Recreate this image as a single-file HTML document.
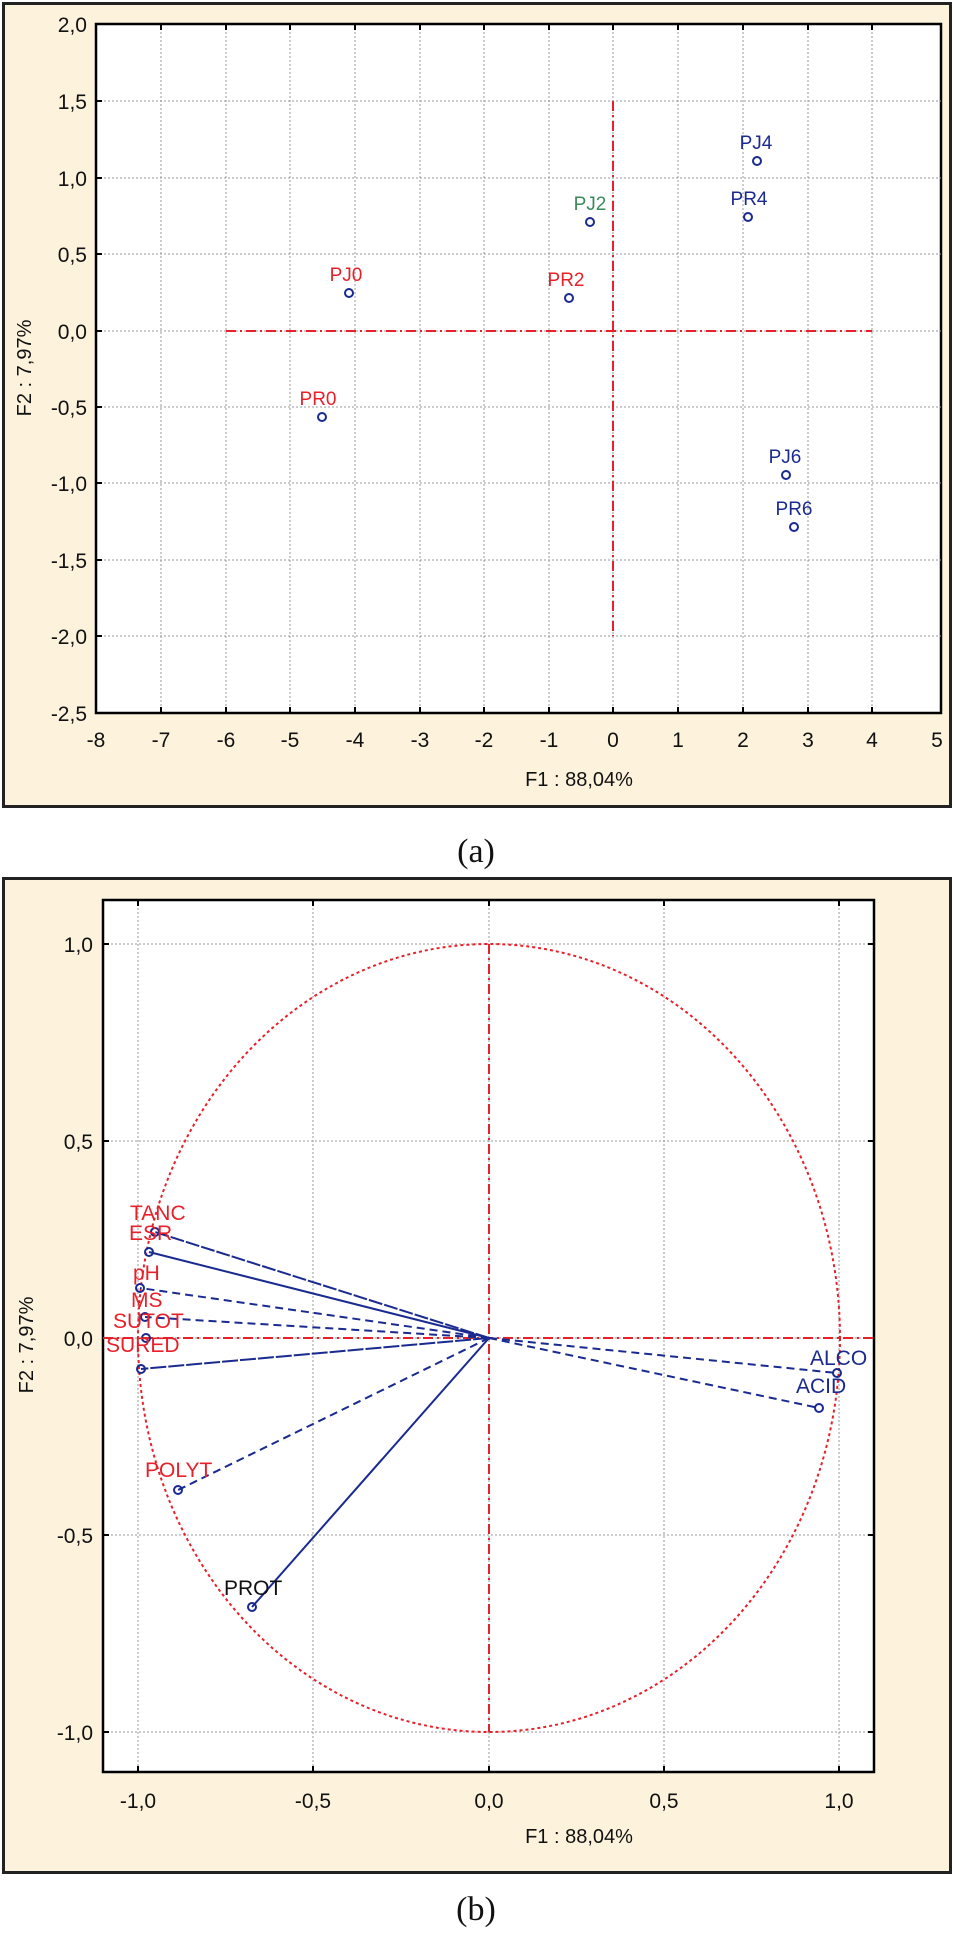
<!DOCTYPE html>
<html><head><meta charset="utf-8"><style>
html,body{margin:0;padding:0;background:#fff;}
svg{display:block;font-family:"Liberation Sans",sans-serif;}
</style></head><body>
<svg width="955" height="1933" viewBox="0 0 955 1933" xmlns="http://www.w3.org/2000/svg">
<!-- Panel a -->
<rect x="3.5" y="3.5" width="947" height="803" fill="#fdf2dc" stroke="#222" stroke-width="3"/>
<rect x="96" y="24" width="845" height="689" fill="#fff" stroke="#000" stroke-width="2.5"/>
<g stroke="#999" stroke-width="1" stroke-dasharray="2,2">
<line x1="161" y1="24" x2="161" y2="713"/><line x1="226" y1="24" x2="226" y2="713"/><line x1="290" y1="24" x2="290" y2="713"/><line x1="355" y1="24" x2="355" y2="713"/><line x1="420" y1="24" x2="420" y2="713"/><line x1="484" y1="24" x2="484" y2="713"/><line x1="549" y1="24" x2="549" y2="713"/><line x1="613" y1="24" x2="613" y2="713"/><line x1="678" y1="24" x2="678" y2="713"/><line x1="743" y1="24" x2="743" y2="713"/><line x1="808" y1="24" x2="808" y2="713"/><line x1="872" y1="24" x2="872" y2="713"/>
<line x1="96" y1="101" x2="941" y2="101"/><line x1="96" y1="178" x2="941" y2="178"/><line x1="96" y1="254" x2="941" y2="254"/><line x1="96" y1="331" x2="941" y2="331"/><line x1="96" y1="407" x2="941" y2="407"/><line x1="96" y1="483" x2="941" y2="483"/><line x1="96" y1="560" x2="941" y2="560"/><line x1="96" y1="636" x2="941" y2="636"/>
</g>
<g stroke="#000" stroke-width="2">
<path d="M161 713v-6M226 713v-6M290 713v-6M355 713v-6M420 713v-6M484 713v-6M549 713v-6M613 713v-6M678 713v-6M743 713v-6M808 713v-6M872 713v-6M161 24v6M226 24v6M290 24v6M355 24v6M420 24v6M484 24v6M549 24v6M613 24v6M678 24v6M743 24v6M808 24v6M872 24v6"/>
<path d="M96 101h6M96 178h6M96 254h6M96 331h6M96 407h6M96 483h6M96 560h6M96 636h6"/>
</g>
<g stroke="#e8202a" stroke-width="2" stroke-dasharray="10,4,2,4">
<line x1="226" y1="331" x2="872" y2="331"/><line x1="613" y1="101" x2="613" y2="636"/>
</g>
<g font-size="21" fill="#111" text-anchor="end">
<text x="87" y="32">2,0</text><text x="87" y="109">1,5</text><text x="87" y="186">1,0</text><text x="87" y="262">0,5</text><text x="87" y="339">0,0</text><text x="87" y="415">-0,5</text><text x="87" y="491">-1,0</text><text x="87" y="568">-1,5</text><text x="87" y="644">-2,0</text><text x="87" y="721">-2,5</text>
</g>
<g font-size="21" fill="#111" text-anchor="middle">
<text x="96" y="747">-8</text><text x="161" y="747">-7</text><text x="226" y="747">-6</text><text x="290" y="747">-5</text><text x="355" y="747">-4</text><text x="420" y="747">-3</text><text x="484" y="747">-2</text><text x="549" y="747">-1</text><text x="613" y="747">0</text><text x="678" y="747">1</text><text x="743" y="747">2</text><text x="808" y="747">3</text><text x="872" y="747">4</text><text x="937" y="747">5</text>
<text x="579" y="786" font-size="20">F1 : 88,04%</text>
</g>
<text transform="translate(31,368) rotate(-90)" font-size="20" fill="#111" text-anchor="middle">F2 : 7,97%</text>
<g fill="none" stroke="#1a2a90" stroke-width="2">
<circle cx="349" cy="293" r="4"/><circle cx="322" cy="417" r="4"/><circle cx="569" cy="298" r="4"/><circle cx="590" cy="222" r="4"/><circle cx="757" cy="161" r="4"/><circle cx="748" cy="217" r="4"/><circle cx="786" cy="475" r="4"/><circle cx="794" cy="527" r="4"/>
</g>
<g font-size="19" text-anchor="middle">
<text x="346" y="281" fill="#e8202a">PJ0</text><text x="318" y="405" fill="#e8202a">PR0</text><text x="566" y="286" fill="#e8202a">PR2</text><text x="590" y="210" fill="#3a8a5a">PJ2</text><text x="756" y="149" fill="#1a2a90">PJ4</text><text x="749" y="205" fill="#1a2a90">PR4</text><text x="785" y="463" fill="#1a2a90">PJ6</text><text x="794" y="515" fill="#1a2a90">PR6</text>
</g>
<text x="476" y="862" font-family="Liberation Serif,serif" font-size="34" text-anchor="middle" fill="#111">(a)</text>

<!-- Panel b -->
<rect x="3.5" y="878.5" width="947" height="994" fill="#fdf2dc" stroke="#222" stroke-width="3"/>
<rect x="103" y="900" width="771" height="872" fill="#fff" stroke="#000" stroke-width="2.5"/>
<g stroke="#999" stroke-width="1" stroke-dasharray="2,2">
<line x1="138" y1="900" x2="138" y2="1772"/><line x1="313" y1="900" x2="313" y2="1772"/><line x1="489" y1="900" x2="489" y2="1772"/><line x1="664" y1="900" x2="664" y2="1772"/><line x1="839" y1="900" x2="839" y2="1772"/>
<line x1="103" y1="944" x2="874" y2="944"/><line x1="103" y1="1141" x2="874" y2="1141"/><line x1="103" y1="1338" x2="874" y2="1338"/><line x1="103" y1="1535" x2="874" y2="1535"/><line x1="103" y1="1732" x2="874" y2="1732"/>
</g>
<g stroke="#000" stroke-width="2">
<path d="M138 1772v-6M313 1772v-6M489 1772v-6M664 1772v-6M839 1772v-6M138 900v6M313 900v6M489 900v6M664 900v6M839 900v6"/>
<path d="M103 944h6M103 1141h6M103 1338h6M103 1535h6M103 1732h6M874 944h-6M874 1141h-6M874 1338h-6M874 1535h-6M874 1732h-6"/>
</g>
<ellipse cx="489" cy="1338" rx="351" ry="394" fill="none" stroke="#e8202a" stroke-width="2" stroke-dasharray="3,3"/>
<g stroke="#e8202a" stroke-width="2" stroke-dasharray="10,4,2,4">
<line x1="103" y1="1338" x2="874" y2="1338"/><line x1="489" y1="944" x2="489" y2="1732"/>
</g>
<g stroke="#1a2a90" stroke-width="2" fill="none">
<line x1="489" y1="1338" x2="155" y2="1232" stroke-dasharray="14,2"/>
<line x1="489" y1="1338" x2="149" y2="1252"/>
<line x1="489" y1="1338" x2="140" y2="1288" stroke-dasharray="8,5"/>
<line x1="489" y1="1338" x2="145" y2="1317" stroke-dasharray="8,5"/>
<line x1="489" y1="1338" x2="141" y2="1369" stroke-dasharray="16,2"/>
<line x1="489" y1="1338" x2="178" y2="1490" stroke-dasharray="8,5"/>
<line x1="489" y1="1338" x2="252" y2="1607"/>
<line x1="489" y1="1338" x2="837" y2="1373" stroke-dasharray="8,5"/>
<line x1="489" y1="1338" x2="819" y2="1408" stroke-dasharray="8,5"/>
<circle cx="155" cy="1232" r="4"/><circle cx="149" cy="1252" r="4"/><circle cx="140" cy="1288" r="4"/><circle cx="145" cy="1317" r="4"/><circle cx="146" cy="1338" r="4"/><circle cx="141" cy="1369" r="4"/><circle cx="178" cy="1490" r="4"/><circle cx="252" cy="1607" r="4"/><circle cx="837" cy="1373" r="4"/><circle cx="819" cy="1408" r="4"/>
</g>
<g font-size="21" fill="#e8202a">
<text x="130" y="1220">TANC</text><text x="129" y="1240">ESR</text><text x="133" y="1280">pH</text><text x="131" y="1307">MS</text><text x="113" y="1328">SUTOT</text><text x="106" y="1352">SURED</text><text x="145" y="1477">POLYT</text>
</g>
<text x="224" y="1595" font-size="21" fill="#111">PROT</text>
<g font-size="21" fill="#1a2a90"><text x="810" y="1365">ALCO</text><text x="796" y="1393">ACID</text></g>
<g font-size="21" fill="#111" text-anchor="end">
<text x="93" y="952">1,0</text><text x="93" y="1149">0,5</text><text x="93" y="1346">0,0</text><text x="93" y="1543">-0,5</text><text x="93" y="1740">-1,0</text>
</g>
<g font-size="21" fill="#111" text-anchor="middle">
<text x="138" y="1808">-1,0</text><text x="313" y="1808">-0,5</text><text x="489" y="1808">0,0</text><text x="664" y="1808">0,5</text><text x="839" y="1808">1,0</text>
<text x="579" y="1843" font-size="20">F1 : 88,04%</text>
</g>
<text transform="translate(33,1345) rotate(-90)" font-size="20" fill="#111" text-anchor="middle">F2 :  7,97%</text>
<text x="476" y="1920" font-family="Liberation Serif,serif" font-size="34" text-anchor="middle" fill="#111">(b)</text>
</svg>
</body></html>
